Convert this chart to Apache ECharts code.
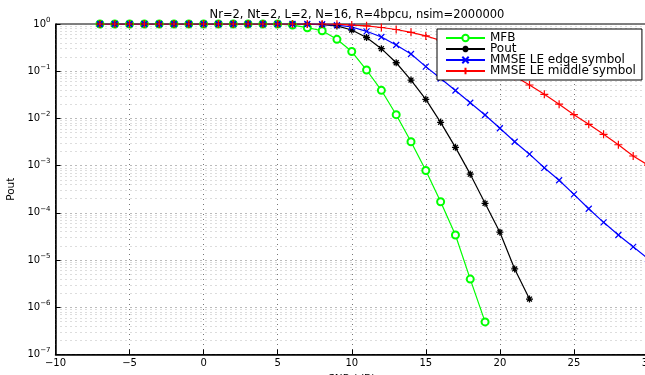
<!DOCTYPE html>
<html>
<head>
<meta charset="utf-8">
<script src="https://cdn.jsdelivr.net/npm/echarts@6/dist/echarts.min.js"></script>
<style>
  html, body { margin: 0; padding: 0; background: #fff; }
  #outage { width: 645px; height: 375px; }
</style>
</head>
<body>
<div id="outage"></div>
<script>
// SNR points (dB), shared by every curve; each curve stops where its list ends
const snr = [-7, -6, -5, -4, -3, -2, -1, 0, 1, 2, 3, 4, 5, 6, 7, 8, 9, 10, 11, 12, 13, 14, 15, 16, 17, 18, 19, 20, 21, 22, 23, 24, 25, 26, 27, 28, 29, 30];

const mfb = [1, 1, 1, 1, 1, 1, 1, 1, 1, 1, 1, 1, 1, 0.95, 0.835, 0.72, 0.474, 0.261, 0.106, 0.0394, 0.012, 0.0032, 7.9e-4, 1.72e-4, 3.4e-5, 3.95e-6, 4.9e-7];
const pout = [1, 1, 1, 1, 1, 1, 1, 1, 1, 1, 1, 1, 1, 1, 0.99, 0.97, 0.91, 0.746, 0.518, 0.30, 0.151, 0.065, 0.0254, 0.00826, 0.00244, 6.6e-4, 1.59e-4, 3.9e-5, 6.5e-6, 1.49e-6];
const edgeSym = [1, 1, 1, 1, 1, 1, 1, 1, 1, 1, 1, 1, 1, 1, 1, 0.99, 0.95, 0.864, 0.70, 0.53, 0.359, 0.231, 0.125, 0.07, 0.039, 0.0215, 0.0118, 0.0062, 0.0032, 0.00175, 9.0e-4, 4.9e-4, 2.47e-4, 1.22e-4, 6.3e-5, 3.4e-5, 1.91e-5, 1.07e-5];
const middleSym = [1, 1, 1, 1, 1, 1, 1, 1, 1, 1, 1, 1, 1, 1, 1, 1, 0.99, 0.95, 0.916, 0.843, 0.765, 0.667, 0.56, 0.447, 0.342, 0.249, 0.173, 0.117, 0.078, 0.051, 0.0324, 0.02, 0.012, 0.0075, 0.0046, 0.00277, 0.0016, 0.00103];

const xRange = [-10, 30];
const decades = [-7, -6, -5, -4, -3, -2, -1];
const minorSteps = [2, 3, 4, 5, 6, 7, 8, 9];

function pairs(vals) {
    return vals.map((v, i) => [snr[i], v]);
}

// log minor grid (2..9 x 10^k) as dotted lines drawn through the axes
const minorLines = [];
decades.forEach(k => {
    minorSteps.forEach(m => {
        const v = m * Math.pow(10, k);
        minorLines.push({ coords: [[xRange[0], v], [xRange[1], v]] });
    });
});

const plus = 'path://M5,0L5,10M0,5L10,5';
const cross = 'path://M0,0L10,10M10,0L0,10';
const star = 'path://M5,0L5,10M0,5L10,5M1.5,1.5L8.5,8.5M8.5,1.5L1.5,8.5';

const chart = echarts.init(document.getElementById('outage'));

const dotted = { type: [1, 4], color: '#777', width: 1 };

const option = {
    animation: false,
    textStyle: { fontFamily: 'DejaVu Sans, sans-serif' },
    title: {
        text: 'Nr=2, Nt=2, L=2, N=16, R=4bpcu, nsim=2000000',
        left: 352,
        top: 4,
        textAlign: 'center',
        textStyle: { fontSize: 11.5, fontWeight: 'normal', color: '#000' }
    },
    legend: {
        orient: 'vertical',
        left: 437,
        top: 29,
        padding: [3, 6, 3, 8],
        itemGap: -1,
        itemWidth: 39,
        itemHeight: 8,
        backgroundColor: '#fff',
        borderColor: '#000',
        borderWidth: 1,
        textStyle: { fontSize: 12, color: '#000', lineHeight: 11 },
        data: ['MFB', 'Pout', 'MMSE LE edge symbol', 'MMSE LE middle symbol']
    },
    grid: {
        left: 55.5,
        right: -3,
        top: 24,
        bottom: 20.5,
        outerBoundsMode: 'none',
        containLabel: false,
        show: true,
        borderColor: '#000',
        borderWidth: 1
    },
    xAxis: {
        type: 'value',
        min: xRange[0],
        max: xRange[1],
        interval: 5,
        name: 'SNR (dB)',
        nameLocation: 'middle',
        nameGap: 16,
        nameTextStyle: { fontSize: 10.5, color: '#000' },
        axisLine: { onZero: false, lineStyle: { color: '#000', width: 1.5 } },
        axisTick: { inside: true, length: 5, lineStyle: { color: '#000' } },
        axisLabel: {
            fontSize: 10,
            color: '#000',
            margin: 4,
            formatter: v => (v < 0 ? '\u2212' + (-v) : '' + v)
        },
        splitLine: { show: true, lineStyle: dotted }
    },
    yAxis: {
        type: 'log',
        logBase: 10,
        min: 1e-7,
        max: 1,
        splitNumber: 8,
        name: 'Pout',
        nameLocation: 'middle',
        nameGap: 38,
        nameTextStyle: { fontSize: 10.5, color: '#000' },
        axisLine: { onZero: false, lineStyle: { color: '#000', width: 1.5 } },
        axisTick: { inside: true, length: 5, lineStyle: { color: '#000' } },
        axisLabel: {
            color: '#000',
            margin: 5,
            formatter: v => '{b|10}{s|' + String(Math.round(Math.log10(v))).replace('-', '\u2212') + '}',
            rich: {
                b: { fontSize: 10, color: '#000' },
                s: { fontSize: 7, color: '#000', padding: [0, 0, 8, 0] }
            }
        },
        splitLine: { show: true, lineStyle: dotted }
    },
    series: [
        {
            name: 'minor grid',
            type: 'lines',
            coordinateSystem: 'cartesian2d',
            silent: true,
            z: 0,
            lineStyle: dotted,
            data: minorLines
        },
        {
            name: 'MFB',
            type: 'line',
            data: pairs(mfb),
            symbol: 'emptyCircle',
            symbolSize: 7,
            lineStyle: { color: '#00ff00', width: 1.2 },
            itemStyle: { color: '#00ff00', borderColor: '#00ff00', borderWidth: 1.2 }
        },
        {
            name: 'Pout',
            type: 'line',
            data: pairs(pout),
            symbol: star,
            symbolSize: 7,
            lineStyle: { color: '#000', width: 1.2 },
            itemStyle: { color: '#000', borderColor: '#000', borderWidth: 1.3 }
        },
        {
            name: 'MMSE LE edge symbol',
            type: 'line',
            data: pairs(edgeSym),
            symbol: cross,
            symbolSize: 6,
            lineStyle: { color: '#0000ff', width: 1.2 },
            itemStyle: { color: '#0000ff', borderColor: '#0000ff', borderWidth: 1.2 }
        },
        {
            name: 'MMSE LE middle symbol',
            type: 'line',
            data: pairs(middleSym),
            symbol: plus,
            symbolSize: 8,
            lineStyle: { color: '#ff0000', width: 1.2 },
            itemStyle: { color: '#ff0000', borderColor: '#ff0000', borderWidth: 1.2 }
        }
    ]
};

chart.setOption(option);
</script>
</body>
</html>
